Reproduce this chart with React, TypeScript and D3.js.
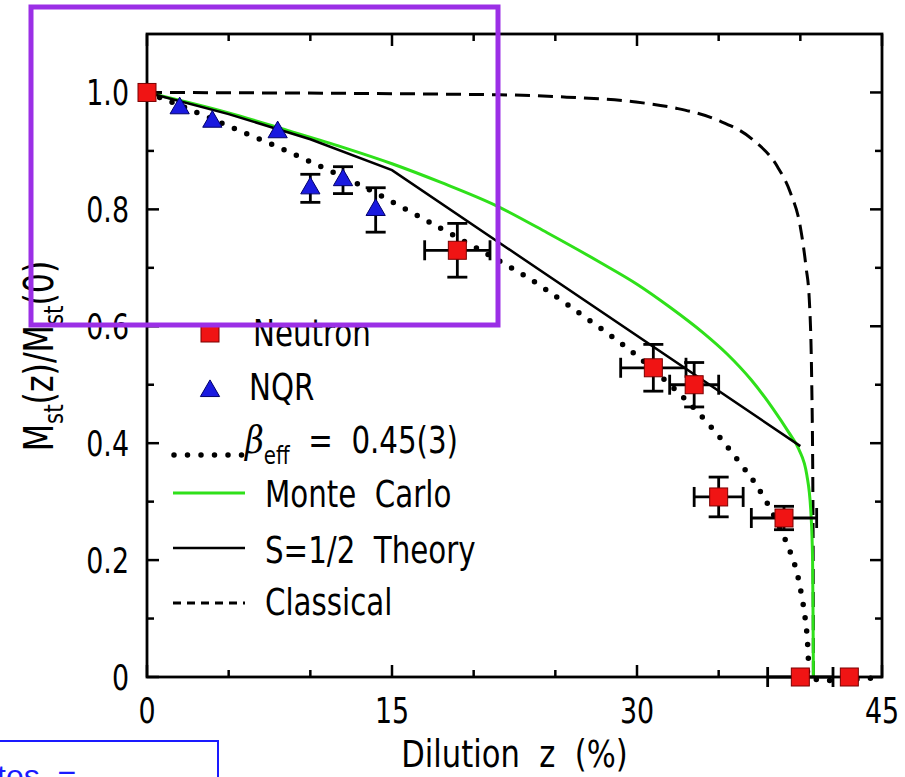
import React from "react";
import * as d3 from "d3";

// ---------- data ----------
const neutronZ = [0, 19, 31, 33.5, 35, 39, 40, 43];
const neutronM = [1.0, 0.73, 0.529, 0.5, 0.308, 0.272, 0, 0];
const neutronZErr = [0, 2, 2, 1.5, 1.5, 2, 2, 0];
const neutronMErr = [0, 0.046, 0.04, 0.038, 0.034, 0.02, 0, 0];

const nqrZ = [2, 4, 8, 10, 12, 14];
const nqrM = [0.973, 0.95, 0.932, 0.836, 0.85, 0.799];
const nqrMErr = [0, 0, 0, 0.024, 0.023, 0.038];

const betaZ = [0, 0.9, 2.7, 5.3, 8.0, 10.65, 13.3, 17.5, 21.8, 23.45, 27.4, 29.8, 32.7, 34.05, 35.3, 36.5, 37.1, 38.1, 39.0, 39.7, 40.05, 40.25, 40.4, 40.5, 40.55, 45];
const betaM = [1.0, 0.99, 0.97, 0.939, 0.907, 0.873, 0.838, 0.775, 0.708, 0.681, 0.604, 0.554, 0.482, 0.443, 0.402, 0.359, 0.337, 0.291, 0.24, 0.188, 0.144, 0.11, 0.075, 0.027, 0, 0];

const mcZ = [0, 5, 8.6, 12, 15, 18, 21.4, 24.5, 27.7, 30, 32, 34, 35.5, 37, 38.3, 39.3, 39.9, 40.4, 40.65, 40.75, 40.78, 40.8];
const mcM = [1.0, 0.965, 0.935, 0.906, 0.878, 0.846, 0.806, 0.76, 0.71, 0.672, 0.633, 0.59, 0.553, 0.508, 0.46, 0.418, 0.39, 0.345, 0.28, 0.2, 0.1, 0];

const theoryZ = [0, 5, 10, 15, 40];
const theoryM = [1.0, 0.963, 0.92, 0.867, 0.395];

const classicalZ = [0, 21.6, 25.7, 29.8, 32.4, 34.9, 37.1, 38.6, 39.4, 40.0, 40.35, 40.55, 40.7, 40.78, 40.8];
const classicalM = [1.0, 0.996, 0.992, 0.984, 0.973, 0.953, 0.919, 0.873, 0.828, 0.77, 0.701, 0.645, 0.5, 0.25, 0];

const xMajorTicks = [0, 15, 30, 45];
const xMinorTicks = [5, 10, 20, 25, 35, 40];
const xTickLabels = ["0", "15", "30", "45"];
const yMajorTicks = [0, 0.2, 0.4, 0.6, 0.8, 1.0];
const yMinorTicks = [0.1, 0.3, 0.5, 0.7, 0.9];
const yTickLabels = ["0", "0.2", "0.4", "0.6", "0.8", "1.0"];

const legendLabels = ["Neutron", "NQR", "Monte  Carlo", "S=1/2  Theory", "Classical"];

// ---------- layout ----------
const W = 905;
const H = 777;
const FONT = "'Liberation Sans Narrow', 'DejaVu Sans Condensed', 'Roboto', sans-serif";
const GREEN = "#2fe01a";
const RED = "#f01414";
const BLUE = "#1a1ae0";

function T({ x, y, size, sx = 1, anchor = "start", rotate = 0, children, ...rest }: any) {
  return (
    <g transform={`translate(${x},${y}) rotate(${rotate}) scale(${sx},1)`}>
      <text x={0} y={0} fontSize={size} textAnchor={anchor} style={{ whiteSpace: "pre" }} {...rest}>
        {children}
      </text>
    </g>
  );
}

export default function App() {
  const x = d3.scaleLinear().domain([0, 45]).range([147, 882]);
  const y = d3.scaleLinear().domain([0, 1.1]).range([677, 34]);
  const [x0, x1] = x.range();
  const [yb, yt] = y.range();

  const pts = (zs: number[], ms: number[]) => zs.map((z, i) => [z, ms[i]] as [number, number]);
  const lineMono = d3.line<[number, number]>().x((d) => x(d[0])).y((d) => y(d[1])).curve(d3.curveMonotoneX);
  const lineCR = d3.line<[number, number]>().x((d) => x(d[0])).y((d) => y(d[1])).curve(d3.curveCatmullRom.alpha(0.5));
  const lineLin = d3.line<[number, number]>().x((d) => x(d[0])).y((d) => y(d[1]));

  const tri = d3.symbol(d3.symbolTriangle, 160)()!;
  const cap = 10;
  const sq = 18;

  const tickFs = 36;
  const tickSx = 0.83;
  const legFs = 37;
  const legSx = 0.88;

  return (
    <svg width={W} height={H} style={{ position: "absolute", left: 0, top: 0, background: "#fff" }} fontFamily={FONT}>
      <rect x={0} y={0} width={W} height={H} fill="#fff" />
      {/* curves */}
      <path d={lineMono(pts(classicalZ, classicalM))!} fill="none" stroke="#000" strokeWidth={3} strokeDasharray="15 8" />
      <path d={lineMono(pts(mcZ, mcM))!} fill="none" stroke={GREEN} strokeWidth={3} />
      <path d={lineLin(pts(theoryZ, theoryM))!} fill="none" stroke="#000" strokeWidth={2.5} />
      <path d={lineCR(pts(betaZ, betaM))!} fill="none" stroke="#000" strokeWidth={5.5} strokeLinecap="round" strokeDasharray="0 13.5" />

      {/* frame */}
      <rect x={x0} y={yt} width={x1 - x0} height={yb - yt} fill="none" stroke="#000" strokeWidth={2.8} />
      {xMajorTicks.map((t) => (
        <g key={"xM" + t}>
          <line x1={x(t)} x2={x(t)} y1={yb} y2={yb - 12} stroke="#000" strokeWidth={2.5} />
          <line x1={x(t)} x2={x(t)} y1={yt} y2={yt + 12} stroke="#000" strokeWidth={2.5} />
        </g>
      ))}
      {xMinorTicks.map((t) => (
        <g key={"xm" + t}>
          <line x1={x(t)} x2={x(t)} y1={yb} y2={yb - 7} stroke="#000" strokeWidth={2.5} />
          <line x1={x(t)} x2={x(t)} y1={yt} y2={yt + 7} stroke="#000" strokeWidth={2.5} />
        </g>
      ))}
      {yMajorTicks.map((t) => (
        <g key={"yM" + t}>
          <line x1={x0} x2={x0 + 12} y1={y(t)} y2={y(t)} stroke="#000" strokeWidth={2.5} />
          <line x1={x1} x2={x1 - 12} y1={y(t)} y2={y(t)} stroke="#000" strokeWidth={2.5} />
        </g>
      ))}
      {yMinorTicks.map((t) => (
        <g key={"ym" + t}>
          <line x1={x0} x2={x0 + 7} y1={y(t)} y2={y(t)} stroke="#000" strokeWidth={2.5} />
          <line x1={x1} x2={x1 - 7} y1={y(t)} y2={y(t)} stroke="#000" strokeWidth={2.5} />
        </g>
      ))}
      {xMajorTicks.map((t, i) => (
        <T key={"xl" + t} x={x(t)} y={723} size={tickFs} sx={tickSx} anchor="middle">{xTickLabels[i]}</T>
      ))}
      {yMajorTicks.map((t, i) => (
        <T key={"yl" + t} x={129} y={y(t) + 13} size={tickFs} sx={tickSx} anchor="end">{yTickLabels[i]}</T>
      ))}

      {/* error bars */}
      {neutronZ.map((z, i) => (
        <g key={"ne" + i} stroke="#000" strokeWidth={2.8}>
          {neutronZErr[i] > 0 && (
            <>
              <line x1={x(z - neutronZErr[i])} x2={x(z + neutronZErr[i])} y1={y(neutronM[i])} y2={y(neutronM[i])} />
              <line x1={x(z - neutronZErr[i])} x2={x(z - neutronZErr[i])} y1={y(neutronM[i]) - cap} y2={y(neutronM[i]) + cap} />
              <line x1={x(z + neutronZErr[i])} x2={x(z + neutronZErr[i])} y1={y(neutronM[i]) - cap} y2={y(neutronM[i]) + cap} />
            </>
          )}
          {neutronMErr[i] > 0 && (
            <>
              <line x1={x(z)} x2={x(z)} y1={y(neutronM[i] - neutronMErr[i])} y2={y(neutronM[i] + neutronMErr[i])} />
              <line x1={x(z) - cap} x2={x(z) + cap} y1={y(neutronM[i] - neutronMErr[i])} y2={y(neutronM[i] - neutronMErr[i])} />
              <line x1={x(z) - cap} x2={x(z) + cap} y1={y(neutronM[i] + neutronMErr[i])} y2={y(neutronM[i] + neutronMErr[i])} />
            </>
          )}
        </g>
      ))}
      {nqrZ.map((z, i) =>
        nqrMErr[i] > 0 ? (
          <g key={"qe" + i} stroke="#000" strokeWidth={2.8}>
            <line x1={x(z)} x2={x(z)} y1={y(nqrM[i] - nqrMErr[i])} y2={y(nqrM[i] + nqrMErr[i])} />
            <line x1={x(z) - cap} x2={x(z) + cap} y1={y(nqrM[i] - nqrMErr[i])} y2={y(nqrM[i] - nqrMErr[i])} />
            <line x1={x(z) - cap} x2={x(z) + cap} y1={y(nqrM[i] + nqrMErr[i])} y2={y(nqrM[i] + nqrMErr[i])} />
          </g>
        ) : null
      )}

      {/* markers */}
      {neutronZ.map((z, i) => (
        <rect key={"n" + i} x={x(z) - sq / 2} y={y(neutronM[i]) - sq / 2} width={sq} height={sq} fill={RED} stroke="#7a0000" strokeWidth={1} />
      ))}
      {nqrZ.map((z, i) => (
        <path key={"q" + i} d={tri} transform={`translate(${x(z)},${y(nqrM[i])})`} fill={BLUE} stroke="#00006a" strokeWidth={1} />
      ))}

      {/* legend */}
      <rect x={210 - sq / 2} y={333 - sq / 2} width={sq} height={sq} fill={RED} stroke="#7a0000" strokeWidth={1} />
      <T x={253} y={346} size={legFs} sx={legSx}>{legendLabels[0]}</T>
      <path d={tri} transform="translate(210,391)" fill={BLUE} stroke="#00006a" strokeWidth={1} />
      <T x={249} y={400} size={legFs} sx={legSx}>{legendLabels[1]}</T>
      <line x1={174} x2={243} y1={455} y2={455} stroke="#000" strokeWidth={5.5} strokeLinecap="round" strokeDasharray="0 13.5" />
      <T x={245} y={453} size={legFs} sx={legSx}>
        <tspan fontStyle="italic" fontFamily="'DejaVu Serif', serif">β</tspan>
        <tspan fontSize={25} dy={11}>eff</tspan>
        <tspan dy={-11}>{"  =  0.45(3)"}</tspan>
      </T>
      <line x1={173} x2={245} y1={493} y2={493} stroke={GREEN} strokeWidth={3} />
      <T x={265} y={507} size={legFs} sx={legSx}>{legendLabels[2]}</T>
      <line x1={173} x2={245} y1={548} y2={548} stroke="#000" strokeWidth={2.5} />
      <T x={265} y={563} size={legFs} sx={legSx}>{legendLabels[3]}</T>
      <line x1={173} x2={245} y1={603} y2={603} stroke="#000" strokeWidth={3} strokeDasharray="8 6" />
      <T x={265} y={615} size={legFs} sx={legSx}>{legendLabels[4]}</T>

      {/* axis titles */}
      <T x={(x0 + x1) / 2} y={767} size={37} sx={0.92} anchor="middle">Dilution  z  (%)</T>
      <g transform="translate(53,356) rotate(-90) scale(0.88,1)">
        <text x={0} y={0} fontSize={40} textAnchor="middle">
          <tspan>M</tspan>
          <tspan fontSize={27} dy={10}>st</tspan>
          <tspan dy={-10}>(z)/M</tspan>
          <tspan fontSize={27} dy={10}>st</tspan>
          <tspan dy={-10}>(0)</tspan>
        </text>
      </g>

      {/* annotation overlays */}
      <rect x={31} y={7} width={467} height={318} fill="none" stroke="#9b2fe6" strokeWidth={5} />
      <rect x={-10} y={741} width={228} height={60} fill="#fff" stroke="#1a1aff" strokeWidth={2} />
      <text x={-3} y={787} fontSize={32} fill="#1a1aff" fontFamily="'Liberation Sans', Arial, sans-serif" style={{ whiteSpace: "pre" }}>tes  =</text>
    </svg>
  );
}
